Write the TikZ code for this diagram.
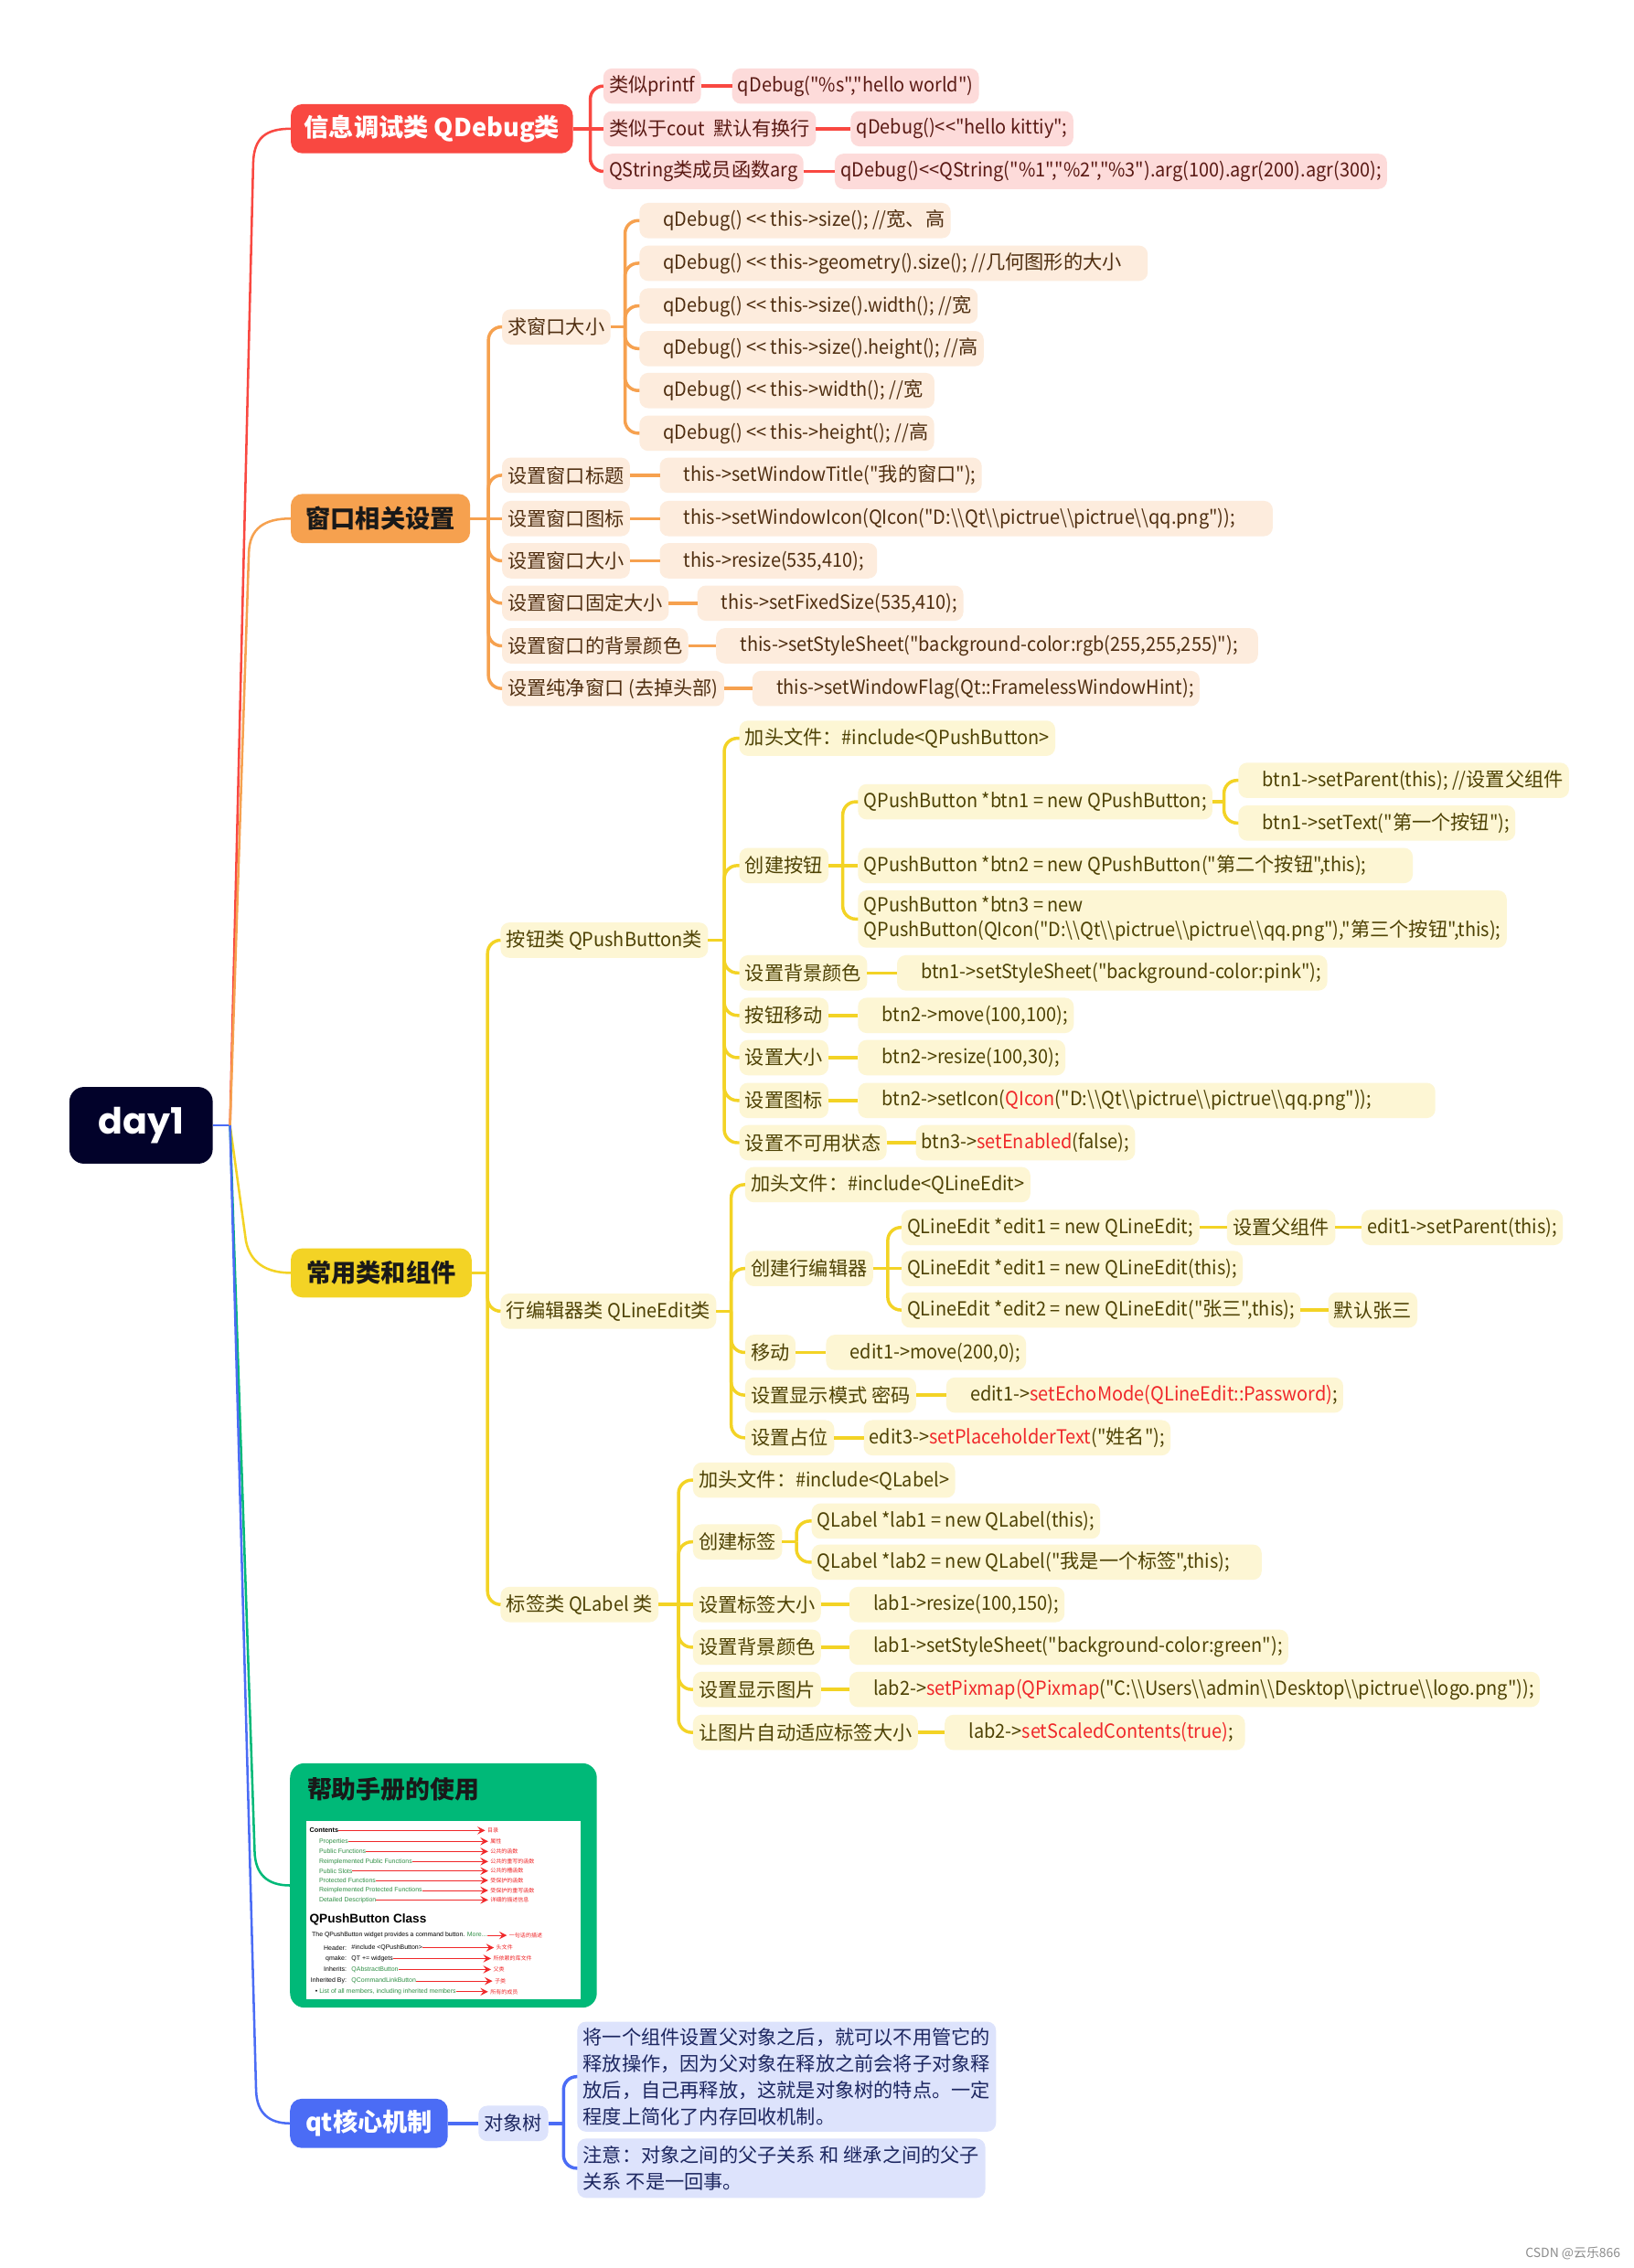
\documentclass[tikz,border=0pt]{standalone}
\usepackage{fontspec}
\newfontfamily\cjk{Noto Sans CJK SC}[Ligatures=TeXOff]
\newfontfamily\latf{Noto Sans CJK SC}[Ligatures=TeXOff,FakeStretch=0.94]
\newfontfamily\pop{Poppins}
\newfontfamily\arial{Liberation Sans}[Ligatures=TeXOff]
\newXeTeXintercharclass\mycjk
\count255="3000 \loop \XeTeXcharclass\count255=\mycjk \ifnum\count255<"303F \advance\count255 by 1 \repeat
\count255="4E00 \loop \XeTeXcharclass\count255=\mycjk \ifnum\count255<"9FFF \advance\count255 by 1 \repeat
\count255="FF00 \loop \XeTeXcharclass\count255=\mycjk \ifnum\count255<"FFEF \advance\count255 by 1 \repeat
\XeTeXinterchartoks 0 \mycjk = {\cjk}
\XeTeXinterchartoks \mycjk 0 = {\latf}
\XeTeXinterchartoks 4095 0 = {\latf}
\XeTeXinterchartoks 4095 \mycjk = {\cjk}
\newcommand\mixon{\XeTeXinterchartokenstate=1\relax}
\definecolor{rootc}{HTML}{02022A}
\definecolor{rnode}{HTML}{F94841}
\definecolor{rfill}{HTML}{FDDBDA}
\definecolor{rtext}{HTML}{5A1A14}
\definecolor{onode}{HTML}{F6A14F}
\definecolor{ofill}{HTML}{FDECDD}
\definecolor{otext}{HTML}{4F2E10}
\definecolor{ynode}{HTML}{F3D325}
\definecolor{yfill}{HTML}{FDF6D4}
\definecolor{ytext}{HTML}{4E4204}
\definecolor{gnode}{HTML}{00B978}
\definecolor{bnode}{HTML}{4B6CF5}
\definecolor{bfill}{HTML}{DDE3FC}
\definecolor{btext}{HTML}{1C2660}
\definecolor{hlred}{HTML}{F0282A}
\definecolor{lgreen}{HTML}{2F8F45}
\newcommand\bs{\textbackslash}
\newcommand\hl[1]{\textcolor{hlred}{#1}}
\begin{document}
\begin{tikzpicture}[x=0.5pt,y=-0.5pt,
 every node/.style={inner sep=0pt, outer sep=0pt},
 lf/.style={rounded corners=3pt, minimum height=12.2pt, inner xsep=2pt, anchor=west, font=\cjk\fontsize{6.7}{8}\selectfont\mixon},
 rb/.style={lf, fill=rfill, text=rtext},
 ob/.style={lf, fill=ofill, text=otext},
 yb/.style={lf, fill=yfill, text=ytext},
 bb/.style={lf, fill=bfill, text=btext},
 padl/.style={execute at begin node={\hspace*{6.3pt}}},
 padr/.style={execute at end node={\hspace*{#1}}},
 topn/.style={rounded corners=4pt, minimum height=17pt, anchor=west, font=\cjk\bfseries\fontsize{8.6}{10}\selectfont},
 tl/.style={line width=0.8pt},
 cr/.style={draw=rnode, line width=1.1pt, rounded corners=4.5pt},
 co/.style={draw=onode, line width=1.1pt, rounded corners=4.5pt},
 cy/.style={draw=ynode, line width=1.1pt, rounded corners=4.5pt},
 cb/.style={draw=bnode, line width=1.1pt, rounded corners=4.5pt},
 shot/.style={anchor=west, font=\arial\fontsize{2.2}{2.6}\selectfont},
 shotr/.style={anchor=west, text=hlred, font=\cjk\fontsize{1.9}{2.2}\selectfont},
 sarr/.style={draw=hlred, line width=0.2pt, -stealth, shorten >=0.8pt}
]
\useasboundingbox (0,0) rectangle (1129,1568);
\fill[white] (0,0) rectangle (1129,1568);

% root
\node[fill=rootc, rounded corners=5pt, minimum width=49.5pt, minimum height=26.5pt, text=white, font=\pop\bfseries\fontsize{12.5}{14}\selectfont] (root) at (97.5,778) {day1};

% top-level nodes
\node[topn, fill=rnode, text=white, minimum width=97.5pt] (n1) at (201,89) {信息调试类 QDebug类};
\node[topn, fill=onode, text=black!90, minimum width=62pt] (n2) at (201,358.5) {窗口相关设置};
\node[topn, fill=ynode, text=black!90, minimum width=62.5pt] (n3) at (201,880) {常用类和组件};
\node[topn, fill=bnode, text=white, minimum width=54.5pt] (n5) at (200.5,1468) {qt核心机制};
\node[anchor=north west, fill=gnode, rounded corners=5pt, minimum width=106pt, minimum height=84.5pt] (n4) at (200.5,1219) {};
\node[anchor=west, text=black!90, font=\cjk\bfseries\fontsize{8.5}{10}\selectfont] (n4t) at (212.4,1237) {帮助手册的使用};
\node[anchor=north west, fill=white, minimum width=94.8pt, minimum height=61.7pt] (n4i) at (212,1259) {};

% trunk
\coordinate (tr) at (159,778);
\draw[tl, draw=bnode] (root.east) -- (tr);
\draw[tl, draw=rnode] (tr) -- (175,113) .. controls (175.4,95) and (184,89) .. (n1.west);
\draw[tl, draw=onode] (tr) -- (172,382) .. controls (172.6,365) and (183,358.5) .. (n2.west);
\draw[tl, draw=ynode] (tr) -- (170,858) .. controls (173,873) and (184,880) .. (n3.west);
\draw[tl, draw=gnode] (tr) -- (176,1280) .. controls (176.4,1296) and (185,1303.5) .. (n4.west);
\draw[tl, draw=bnode] (tr) -- (177,1445) .. controls (177.4,1461) and (186,1468) .. (n5.west);

% ---------- red branch
\node[rb] (r1) at (417,59.5) {类似printf};
\node[rb] (r2) at (417,89) {类似于cout\ \ 默认有换行};
\node[rb] (r3) at (417,118.5) {QString类成员函数arg};
\node[rb] (r1a) at (506,59.5) {qDebug("\%s","hello world")};
\node[rb] (r2a) at (588,89) {qDebug()<<"hello kittiy";};
\node[rb] (r3a) at (577,118.5) {qDebug()<<QString("\%1","\%2","\%3").arg(100).agr(200).agr(300);};
\coordinate (br1) at (408,0);
\draw[cr] (n1.east) -- (r2.west);
\foreach \c in {r1,r3} \draw[cr] (n1.east -| br1) -- (br1 |- \c.west) -- (\c.west);
\draw[cr] (r1.east) -- (r1a.west);
\draw[cr] (r2.east) -- (r2a.west);
\draw[cr] (r3.east) -- (r3a.west);

% ---------- orange branch
\node[ob] (o1) at (347,226) {求窗口大小};
\node[ob] (o2) at (347,328.6) {设置窗口标题};
\node[ob] (o3) at (347,358.5) {设置窗口图标};
\node[ob] (o4) at (347,387.7) {设置窗口大小};
\node[ob] (o5) at (347,417) {设置窗口固定大小};
\node[ob] (o6) at (347,446.5) {设置窗口的背景颜色};
\node[ob] (o7) at (347,476) {设置纯净窗口 (去掉头部)};
\node[ob,padl] (oa1) at (442,152.5) {qDebug() << this->size(); //宽、高};
\node[ob,padl,padr=7pt] (oa2) at (442,182) {qDebug() << this->geometry().size(); //几何图形的大小};
\node[ob,padl] (oa3) at (442,211.5) {qDebug() << this->size().width(); //宽};
\node[ob,padl] (oa4) at (442,241) {qDebug() << this->size().height(); //高};
\node[ob,padl,padr=2pt] (oa5) at (442,270) {qDebug() << this->width(); //宽};
\node[ob,padl] (oa6) at (442,299.5) {qDebug() << this->height(); //高};
\node[ob,padl] (o2a) at (456,328.6) {this->setWindowTitle("我的窗口");};
\node[ob,padl,padr=11pt] (o3a) at (456,358.5) {this->setWindowIcon(QIcon("D:\bs\bs Qt\bs\bs pictrue\bs\bs pictrue\bs\bs qq.png"));};
\node[ob,padl,padr=2.5pt] (o4a) at (456,387.7) {this->resize(535,410);};
\node[ob,padl] (o5a) at (482,417) {this->setFixedSize(535,410);};
\node[ob,padl,padr=5pt] (o6a) at (495,446.5) {this->setStyleSheet("background-color:rgb(255,255,255)");};
\node[ob,padl] (o7a) at (520,476) {this->setWindowFlag(Qt::FramelessWindowHint);};
\coordinate (bo) at (337.6,0);
\coordinate (bo1) at (432,0);
\draw[co] (n2.east) -- (o3.west);
\foreach \c in {o1,o2,o4,o5,o6,o7} \draw[co] (n2.east -| bo) -- (bo |- \c.west) -- (\c.west);
\draw[co] (o1.east) -- (o1.east -| bo1);
\foreach \c in {oa1,oa2,oa3,oa4,oa5,oa6} \draw[co] (o1.east -| bo1) -- (bo1 |- \c.west) -- (\c.west);
\foreach \a/\b in {o2/o2a,o3/o3a,o4/o4a,o5/o5a,o6/o6a,o7/o7a} \draw[co] (\a.east) -- (\b.west);

% ---------- yellow branch
\node[yb] (y1) at (346,650) {按钮类 QPushButton类};
\node[yb] (y2) at (346,906.5) {行编辑器类 QLineEdit类};
\node[yb] (y3) at (346,1109.3) {标签类 QLabel 类};
\coordinate (by) at (337,0);
\draw[cy] (n3.east) -- (n3.east -| by);
\foreach \c in {y1,y2,y3} \draw[cy] (n3.east -| by) -- (by |- \c.west) -- (\c.west);

% push button
\node[yb] (p1) at (511,510.4) {加头文件：\#include<QPushButton>};
\node[yb] (p2) at (511,598.4) {创建按钮};
\node[yb] (p3) at (511,672.6) {设置背景颜色};
\node[yb] (p4) at (511,702) {按钮移动};
\node[yb] (p5) at (511,731.2) {设置大小};
\node[yb] (p6) at (511,760.8) {设置图标};
\node[yb] (p7) at (511,790) {设置不可用状态};
\node[yb] (c1) at (593,554.3) {QPushButton *btn1 = new QPushButton;};
\node[yb,padr=14pt] (c2) at (593,598.4) {QPushButton *btn2 = new QPushButton("第二个按钮",this);};
\node[yb, align=left, minimum height=19.8pt, font=\cjk\fontsize{6.7}{8.6}\selectfont\mixon] (c3) at (593,635.4) {QPushButton *btn3 = new\\QPushButton(QIcon("D:\bs\bs Qt\bs\bs pictrue\bs\bs pictrue\bs\bs qq.png"),"第三个按钮",this);};
\node[yb,padl] (c1a) at (856,539.5) {btn1->setParent(this); //设置父组件};
\node[yb,padl] (c1b) at (856,569) {btn1->setText("第一个按钮");};
\node[yb,padl] (p3a) at (620,672.6) {btn1->setStyleSheet("background-color:pink");};
\node[yb,padl] (p4a) at (593,702) {btn2->move(100,100);};
\node[yb,padl] (p5a) at (593,731.2) {btn2->resize(100,30);};
\node[yb,padl,padr=20pt] (p6a) at (593,760.8) {btn2->setIcon(\hl{QIcon}("D:\bs\bs Qt\bs\bs pictrue\bs\bs pictrue\bs\bs qq.png"));};
\node[yb] (p7a) at (633,790) {btn3->\hl{setEnabled}(false);};
\coordinate (byp) at (500.6,0);
\coordinate (byc) at (582.5,0);
\coordinate (byb) at (846,0);
\draw[cy] (y1.east) -- (y1.east -| byp);
\foreach \c in {p1,p2,p3,p4,p5,p6,p7} \draw[cy] (y1.east -| byp) -- (byp |- \c.west) -- (\c.west);
\draw[cy] (p2.east) -- (c2.west);
\foreach \c in {c1,c3} \draw[cy] (p2.east -| byc) -- (byc |- \c.west) -- (\c.west);
\draw[cy] (c1.east) -- (c1.east -| byb);
\foreach \c in {c1a,c1b} \draw[cy] (c1.east -| byb) -- (byb |- \c.west) -- (\c.west);
\foreach \a/\b in {p3/p3a,p4/p4a,p5/p5a,p6/p6a,p7/p7a} \draw[cy] (\a.east) -- (\b.west);

% line edit
\node[yb] (e1) at (515,819) {加头文件：\#include<QLineEdit>};
\node[yb] (e2) at (515,877) {创建行编辑器};
\node[yb] (e3) at (515,935) {移动};
\node[yb] (e4) at (515,964.5) {设置显示模式 密码};
\node[yb] (e5) at (515,994) {设置占位};
\node[yb] (f1) at (623,848.6) {QLineEdit *edit1 = new QLineEdit;};
\node[yb] (f2) at (623,877) {QLineEdit *edit1 = new QLineEdit(this);};
\node[yb] (f3) at (623,905.7) {QLineEdit *edit2 = new QLineEdit("张三",this);};
\node[yb] (f1a) at (848,848.6) {设置父组件};
\node[yb] (f1b) at (941,848.6) {edit1->setParent(this);};
\node[yb] (f3a) at (918,905.7) {默认张三};
\node[yb,padl] (e3a) at (571,935) {edit1->move(200,0);};
\node[yb,padl] (e4a) at (654,964.5) {edit1->\hl{setEchoMode(QLineEdit::Password)};};
\node[yb] (e5a) at (597,994) {edit3->\hl{setPlaceholderText}("姓名");};
\coordinate (bye) at (505.4,0);
\coordinate (byec) at (613.6,0);
\draw[cy] (y2.east) -- (y2.east -| bye);
\foreach \c in {e1,e2,e3,e4,e5} \draw[cy] (y2.east -| bye) -- (bye |- \c.west) -- (\c.west);
\draw[cy] (e2.east) -- (f2.west);
\foreach \c in {f1,f3} \draw[cy] (e2.east -| byec) -- (byec |- \c.west) -- (\c.west);
\foreach \a/\b in {f1/f1a,f1a/f1b,f3/f3a,e3/e3a,e4/e4a,e5/e5a} \draw[cy] (\a.east) -- (\b.west);

% label
\node[yb] (l1) at (479,1023.3) {加头文件：\#include<QLabel>};
\node[yb] (l2) at (479,1066) {创建标签};
\node[yb] (l3) at (479,1109.3) {设置标签大小};
\node[yb] (l4) at (479,1138.8) {设置背景颜色};
\node[yb] (l5) at (479,1168) {设置显示图片};
\node[yb] (l6) at (479,1197.7) {让图片自动适应标签大小};
\node[yb] (m1) at (561,1051.6) {QLabel *lab1 = new QLabel(this);};
\node[yb,padr=9pt] (m2) at (561,1080) {QLabel *lab2 = new QLabel("我是一个标签",this);};
\node[yb,padl] (l3a) at (587,1109.3) {lab1->resize(100,150);};
\node[yb,padl] (l4a) at (587,1138.8) {lab1->setStyleSheet("background-color:green");};
\node[yb,padl] (l5a) at (587,1168) {lab2->\hl{setPixmap(QPixmap}("C:\bs\bs Users\bs\bs admin\bs\bs Desktop\bs\bs pictrue\bs\bs logo.png"));};
\node[yb,padl,padr=2pt] (l6a) at (653,1197.7) {lab2->\hl{setScaledContents(true)};};
\coordinate (byl) at (469,0);
\coordinate (bylc) at (550.5,0);
\draw[cy] (y3.east) -- (l3.west);
\foreach \c in {l1,l2,l4,l5,l6} \draw[cy] (y3.east -| byl) -- (byl |- \c.west) -- (\c.west);
\draw[cy] (l2.east) -- (l2.east -| bylc);
\foreach \c in {m1,m2} \draw[cy] (l2.east -| bylc) -- (bylc |- \c.west) -- (\c.west);
\foreach \a/\b in {l3/l3a,l4/l4a,l5/l5a,l6/l6a} \draw[cy] (\a.east) -- (\b.west);

% ---------- blue branch
\node[bb] (q1) at (330.7,1468) {对象树};
\node[bb, align=left, minimum width=142.5pt, minimum height=38pt, font=\cjk\fontsize{6.7}{9.2}\selectfont] (q2) at (399,1435.7) {将一个组件设置父对象之后，就可以不用管它的\\释放操作，因为父对象在释放之前会将子对象释\\放后，自己再释放，这就是对象树的特点。一定\\程度上简化了内存回收机制。};
\node[bb, align=left, minimum width=139.7pt, minimum height=20.5pt, font=\cjk\fontsize{6.7}{9.2}\selectfont] (q3) at (399,1499) {注意：对象之间的父子关系 和 继承之间的父子\\关系 不是一回事。};
\coordinate (bq) at (389.5,0);
\draw[cb] (n5.east) -- (q1.west);
\draw[cb] (q1.east) -- (q1.east -| bq);
\foreach \c in {q2,q3} \draw[cb] (q1.east -| bq) -- (bq |- \c.west) -- (\c.west);

% ---------- help screenshot
\node[shot, font=\arial\bfseries\fontsize{2.3}{2.6}\selectfont] (s0) at (214,1265.5) {Contents};
\node[shotr] (t0) at (337,1265.5) {目录};
\draw[sarr] (s0.east) -- (t0.west);
\foreach \i/\y/\a/\b in {1/1273/Properties/属性, 2/1280/Public Functions/公共的函数, 3/1287/Reimplemented Public Functions/公共的重写的函数, 4/1293.5/Public Slots/公共的槽函数, 5/1300/Protected Functions/受保护的函数, 6/1307/Reimplemented Protected Functions/受保护的重写函数, 7/1313.5/Detailed Description/详细的描述信息}{
  \node[shot, text=lgreen] (s\i) at (220.6,\y) {\a};
  \node[shotr] (t\i) at (339,\y) {\b};
  \draw[sarr] (s\i.east) -- (t\i.west);
}
\node[shot, font=\arial\bfseries\fontsize{4.3}{5}\selectfont] (sq) at (214,1327) {QPushButton Class};
\node[shot] (sd) at (215.6,1338) {The QPushButton widget provides a command button. \textcolor{lgreen}{More...}};
\node[shotr] (td) at (352,1338) {一句话的描述};
\draw[sarr] (sd.east) -- (td.west);
\foreach \i/\y/\k/\v/\b/\x in {1/1346.5/Header:/\#include <QPushButton>/头文件/343, 2/1354/qmake:/QT += widgets/所依赖的库文件/341, 3/1361.6/Inherits:/\textcolor{lgreen}{QAbstractButton}/父类/341, 4/1369.6/Inherited By:/\textcolor{lgreen}{QCommandLinkButton}/子类/342}{
  \node[shot, anchor=east] (hk\i) at (239.5,\y) {\k};
  \node[shot] (hv\i) at (243,\y) {\v};
  \node[shotr] (ht\i) at (\x,\y) {\b};
  \draw[sarr] (hv\i.east) -- (ht\i.west);
}
\node[shot] (sl) at (218,1377) {• \textcolor{lgreen}{List of all members, including inherited members}};
\node[shotr] (tl5) at (339,1377) {所有的成员};
\draw[sarr] (sl.east) -- (tl5.west);

% footer
\node[anchor=east, text=black!45, font=\cjk\fontsize{4.4}{5}\selectfont] (ft) at (1120,1557.6) {CSDN @云乐866};
\end{tikzpicture}
\end{document}
